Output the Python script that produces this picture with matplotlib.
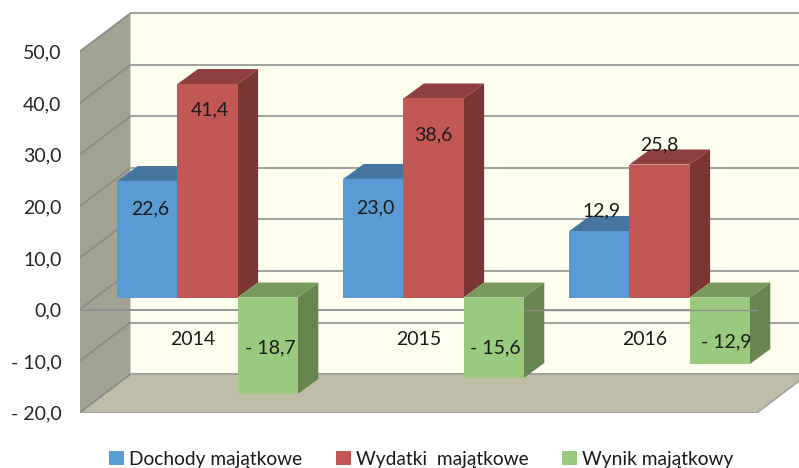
#!/usr/bin/env python3
import matplotlib
matplotlib.use('Agg')
import matplotlib.pyplot as plt
import numpy as np

plt.rcParams['font.family'] = ['Lato', 'DejaVu Sans']

# Data
years = ['2014', '2015', '2016']
dochody = [22.6, 23.0, 12.9]
wydatki = [41.4, 38.6, 25.8]
wynik = [-18.7, -15.6, -12.9]
series_names = ['Dochody majątkowe', 'Wydatki  majątkowe', 'Wynik majątkowy']
yticks = [-20, -10, 0, 10, 20, 30, 40, 50]

# Colours: front, top, side
colors = [('#5b9bd5', '#4676a0', '#3f6b92'),
          ('#c25755', '#8e403e', '#7b3534'),
          ('#9bc97d', '#779b5e', '#678550')]

# Layout in pixels of the 799x468 picture
W, H = 799, 468
left_px, right_px = 79.5, 799
bottom_px, top_px = 412.7, 3.7
px_per_unit = 361 / 70
px_per_cat = 226
group0_px = 207.5


def fmt(v):
    s = f'{abs(v):.1f}'.replace('.', ',')
    return f'- {s}' if v < 0 else s


fig = plt.figure(figsize=(W / 100, H / 100), dpi=100)
ax = fig.add_axes([left_px / W, 1 - bottom_px / H,
                   (right_px - left_px) / W, (bottom_px - top_px) / H])
ax.set_xlim((left_px - group0_px) / px_per_cat, (right_px - group0_px) / px_per_cat)
ax.set_ylim(-20, -20 + (bottom_px - top_px) / px_per_unit)
for s in ax.spines.values():
    s.set_visible(False)
ax.set_xticks([])
ax.set_yticks(yticks)
ax.set_yticklabels([fmt(v) for v in yticks], fontsize=14, color='#262626')
ax.tick_params(axis='y', length=0, pad=13)

# Depth offsets (x in category units, y in value units)
wall_dx, wall_dy = 51 / px_per_cat, 38.5 / px_per_unit
plane_dy = 12 / px_per_unit
depth_dx, depth_dy = 20.5 / px_per_cat, 15 / px_per_unit
bar_w = 60.2 / px_per_cat

x0, x1 = ax.get_xlim()
xw = x0 + wall_dx
ymin, ymax = yticks[0], yticks[-1]
grid_c = '#a3a3a0'
wall_grid_c = '#8c8c88'

# Walls and floor
ax.fill([xw, x1, x1, xw], [ymin + wall_dy, ymin + wall_dy, ymax + wall_dy, ymax + wall_dy],
        color='#fffff0', lw=0, zorder=1)
ax.fill([x0, xw, xw, x0], [ymin, ymin + wall_dy, ymax + wall_dy, ymax],
        color='#a3a394', lw=0, zorder=1)
x_end = (757 - group0_px) / px_per_cat
ax.fill([x0, x_end, x_end + wall_dx, xw], [ymin, ymin, ymin + wall_dy, ymin + wall_dy],
        color='#bfbda7', lw=0, zorder=1)

# Gridlines on both walls
for v in yticks:
    ax.plot([x0, xw], [v, v + wall_dy], color=wall_grid_c, lw=1.3, zorder=2)
    ax.plot([xw, x1], [v + wall_dy, v + wall_dy], color=grid_c, lw=1.5, zorder=2)
ax.plot([x0, x_end], [ymin, ymin], color=grid_c, lw=1.5, zorder=2)
ax.plot([x_end, x_end + wall_dx], [ymin, ymin + wall_dy], color=grid_c, lw=1.3, zorder=2)

# Bars with their top and side faces
x = np.arange(len(years))
all_series = [dochody, wydatki, wynik]
z = 3
handles = []
for i, vals in enumerate(all_series):
    c_front, c_top, c_side = colors[i]
    xs = x + (i - 1) * bar_w
    for xc, v in zip(xs, vals):
        xl, xr = xc - bar_w / 2, xc + bar_w / 2
        hi = max(v, 0) + plane_dy
        lo = min(v, 0) + plane_dy
        ax.fill([xl, xr, xr + depth_dx, xl + depth_dx],
                [hi, hi, hi + depth_dy, hi + depth_dy], color=c_top, lw=0, zorder=z)
        ax.fill([xr, xr + depth_dx, xr + depth_dx, xr],
                [lo, lo + depth_dy, hi + depth_dy, hi], color=c_side, lw=0, zorder=z)
    bars = ax.bar(xs, vals, bar_w, bottom=plane_dy, color=c_front, lw=0, zorder=z + 1,
                  label=series_names[i])
    handles.append(bars)
    z += 2

# Zero line: behind the first green bars, in front from the 2015 bar's right edge on
ax.plot([x0, x_end], [0, 0], color='#8e8e8e', lw=1.3, zorder=4)
ax.plot([x[1] + 1.5 * bar_w, x_end], [0, 0], color='#8e8e8e', lw=1.0, zorder=12)

# Value labels, moved by hand like in the original (pixels from the bar end)
nudges = [[(2.5, -28.3), (2, -29.3), (2, 19.8)],
          [(2, -26.2), (0, -36.7), (0, 19.3)],
          [(3, 45.7), (1.5, 29.7), (7, 21.8)]]
for i, vals in enumerate(all_series):
    xs = x + (i - 1) * bar_w
    for j, v in enumerate(vals):
        ax.annotate(fmt(v), xy=(xs[j], v + plane_dy), xytext=nudges[i][j],
                    textcoords='offset pixels', ha='center', va='center',
                    fontsize=14, color='#1a1a1a', zorder=20)

# Category labels sit on the wall below the zero line
for xc, year in zip(x, years):
    ax.annotate(year, xy=(xc, 0), xytext=(-15, -29.5), textcoords='offset pixels',
                ha='center', va='center', fontsize=14, color='#1a1a1a', zorder=20)

fig.legend(handles=handles, labels=series_names, loc='center', ncol=3, frameon=False,
           bbox_to_anchor=(421 / W, 1 - 459 / H), fontsize=13.8, handlelength=0.8,
           handleheight=0.8, handletextpad=0.25, columnspacing=1.75, labelcolor='#1a1a1a')

fig.savefig('out.png', dpi=100)
